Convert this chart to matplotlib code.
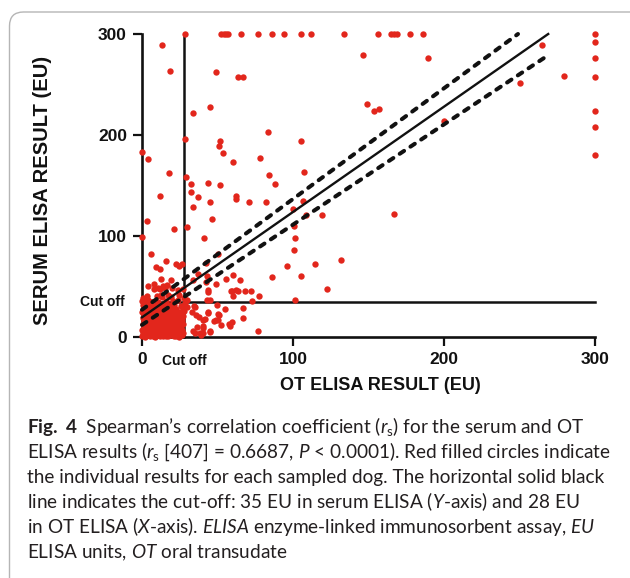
import matplotlib
matplotlib.use("Agg")
import matplotlib.pyplot as plt
from matplotlib.patches import FancyBboxPatch
from matplotlib.transforms import IdentityTransform

# ---------------- data ----------------
# points on the serum = 300 ceiling (OT values)
top_row_ot = [28.7, 52.0, 54.0, 55.9, 57.2, 65.7, 76.9, 85.9, 93.9, 105.3, 111.7,
              134.0, 156.4, 165.0, 166.8, 168.6, 177.7, 186.4, 300.0]
# points on the OT = 300 ceiling (serum values)
right_col_serum = [291.7, 276.6, 257.0, 223.8, 207.6, 180.5]

# scattered individual dogs (OT EU, serum EU)
scatter_pts = [
    (13.0, 288.8), (18.4, 263.7), (48.9, 262.7), (63.8, 257.0), (67.0, 257.0), (146.3, 278.9),
    (189.4, 275.9), (264.6, 289.4), (250.5, 251.5), (279.3, 258.7), (148.9, 231.0), (153.7, 223.8),
    (157.2, 225.7), (200.3, 213.5), (34.0, 222.0), (45.0, 227.4), (28.7, 195.7), (51.6, 194.0),
    (51.0, 189.4), (53.7, 182.5), (60.4, 173.6), (83.2, 202.6), (105.6, 193.7), (77.9, 177.2),
    (107.4, 163.4), (0.3, 183.2), (4.0, 175.9), (18.1, 162.4), (29.0, 158.7), (32.2, 151.5),
    (43.4, 152.8), (51.9, 150.5), (83.8, 160.0), (88.3, 151.8), (32.2, 143.2), (37.2, 138.6),
    (62.0, 139.3), (62.0, 137.0), (70.7, 133.3), (45.0, 134.0), (34.0, 128.4), (82.4, 133.3),
    (11.7, 139.3), (106.9, 134.7), (100.0, 126.7), (108.8, 120.8), (119.4, 120.8), (166.8, 121.8),
    (46.3, 116.5), (3.5, 115.2), (29.8, 108.9), (21.5, 107.3), (0.0, 98.7), (41.0, 98.0),
    (100.5, 109.6), (101.0, 97.7), (100.5, 86.5), (6.1, 81.8), (50.3, 82.2), (131.6, 76.2),
    (114.4, 72.6), (96.3, 70.0), (42.3, 73.3), (15.7, 74.9), (22.3, 72.3), (24.2, 70.0),
    (26.3, 72.3), (9.3, 69.0), (12.2, 67.7), (105.6, 60.0), (85.9, 59.0), (60.1, 61.0),
    (65.2, 56.8), (55.3, 57.4), (48.9, 52.5), (43.1, 60.4), (42.3, 54.5), (122.6, 47.9),
    (58.8, 45.9), (62.5, 46.5), (68.1, 45.9), (72.3, 45.2), (60.1, 41.0), (77.4, 40.3),
    (72.9, 36.0), (101.6, 36.6), (43.6, 46.5), (43.6, 44.2), (43.1, 36.6), (3.7, 50.2),
    (8.2, 47.2), (11.7, 47.9), (15.2, 48.8), (18.9, 56.1), (12.8, 57.4), (37.0, 62.4),
    (33.8, 56.8), (30.0, 36.3), (34.3, 31.0), (49.7, 32.0), (55.0, 28.0), (67.0, 29.0),
    (33.2, 24.4), (43.6, 24.4), (50.0, 22.4), (41.8, 17.8), (48.9, 17.2), (57.7, 13.2),
    (59.3, 14.9), (67.0, 18.8), (52.4, 12.2), (76.9, 6.3), (33.8, 6.3), (38.6, 4.0),
    (45.2, 6.3), (40.7, 10.6), (35.9, 22.0), (45.0, 37.0), (35.1, 30.0), (37.7, 20.1),
    (40.6, 16.8), (43.5, 23.5), (51.0, 21.8), (50.1, 16.8), (58.3, 10.9), (47.9, 16.2),
    (40.6, 9.2), (40.6, 3.7), (39.1, 2.0), (45.0, 5.3), (35.1, 3.7), (36.2, 10.0),
    (63.4, 46.0), (59.4, 46.0), (8.2, 52.5), (10.8, 48.8), (14.1, 50.8), (16.8, 51.8),
    (19.7, 48.2), (9.7, 40.6), (13.2, 39.3), (17.0, 41.6), (19.2, 39.9), (24.0, 46.5),
    (27.0, 47.2), (24.7, 41.6), (28.5, 33.4), (29.6, 30.0), (27.4, 28.4),
]

# dense cluster of low results (OT EU, serum EU)
cluster_pts = [
    (0.3, 1.0), (1.8, 0.4), (3.6, 1.5), (5.2, 0.7), (7.0, 1.2), (8.9, 0.3), (10.4, 1.8), (12.1, 0.9),
    (14.0, 0.5), (15.8, 1.4), (17.5, 0.8), (19.3, 1.9), (21.0, 0.6), (22.8, 1.1), (24.6, 0.4), (26.4, 1.6),
    (0.8, 4.2), (2.5, 3.6), (4.4, 4.9), (6.1, 3.8), (7.8, 4.5), (9.6, 3.3), (11.3, 4.7), (13.2, 4.0),
    (14.9, 3.5), (16.6, 5.0), (18.4, 3.9), (20.1, 4.4), (21.9, 3.2), (23.7, 4.8), (25.5, 3.7), (27.3, 4.1),
    (0.2, 7.4), (1.9, 6.8), (3.7, 7.9), (5.5, 6.5), (7.3, 7.6), (9.0, 7.0), (10.8, 8.1), (12.6, 6.6),
    (14.3, 7.5), (16.1, 6.9), (17.9, 8.0), (19.6, 7.2), (21.4, 6.4), (23.2, 7.7), (25.0, 6.7), (26.8, 7.3),
    (1.1, 10.3), (2.9, 9.6), (4.6, 10.8), (6.4, 9.9), (8.2, 10.5), (10.0, 9.4), (11.7, 11.0), (13.5, 10.1),
    (15.3, 9.7), (17.0, 10.9), (18.8, 9.8), (20.6, 10.6), (22.3, 9.5), (24.1, 10.4), (26.0, 11.2),
    (0.4, 13.1), (2.2, 12.6), (4.0, 13.8), (5.8, 12.9), (7.6, 13.5), (9.3, 12.4), (11.1, 14.0), (12.9, 13.2),
    (14.7, 12.7), (16.4, 13.9), (18.2, 12.8), (20.0, 13.6), (21.7, 12.5), (23.5, 13.4), (25.3, 14.1), (27.1, 12.9),
    (1.3, 16.2), (3.1, 15.6), (4.9, 16.8), (6.7, 15.9), (8.5, 16.5), (10.2, 15.4), (12.0, 17.0), (13.8, 16.1),
    (15.6, 15.7), (17.3, 16.9), (19.1, 15.8), (20.9, 16.6), (22.6, 15.5), (24.4, 16.4), (26.6, 17.2),
    (0.6, 19.3), (2.4, 18.7), (4.2, 19.9), (6.0, 18.9), (7.8, 19.6), (9.6, 18.5), (11.4, 20.1), (13.1, 19.2),
    (14.9, 18.8), (16.7, 20.0), (18.5, 19.0), (20.2, 19.7), (22.0, 18.6), (24.8, 19.5), (27.2, 20.3),
    (1.5, 22.4), (3.3, 21.7), (5.1, 22.9), (6.9, 21.9), (8.7, 22.6), (10.5, 21.5), (12.2, 23.1), (14.0, 22.2),
    (15.8, 21.8), (17.6, 23.0), (19.4, 22.1), (21.5, 22.8), (23.9, 21.6), (26.3, 23.4),
    (0.3, 25.2), (2.6, 24.6), (4.4, 25.9), (6.2, 24.9), (8.0, 25.6), (9.8, 24.4), (11.6, 26.1), (13.4, 25.3),
    (15.2, 24.8), (17.0, 26.0), (18.9, 25.1), (21.0, 25.7), (24.5, 24.7), (27.6, 26.2),
    (1.0, 28.3), (3.8, 27.6), (5.7, 28.9), (7.5, 27.9), (9.3, 28.6), (11.2, 27.5), (13.1, 29.1), (15.0, 28.2),
    (17.2, 27.8), (19.8, 28.7), (22.4, 27.4), (26.9, 28.8),
    (0.5, 31.4), (2.3, 30.6), (5.0, 31.9), (8.4, 30.8), (11.9, 31.6), (14.6, 30.5), (18.1, 32.0), (21.3, 31.2),
    (25.7, 30.9), (0.2, 35.8), (1.7, 34.6), (4.1, 36.2), (6.8, 35.1), (10.3, 34.3), (16.2, 36.0), (20.5, 35.4),
    (23.8, 36.8), (0.4, 38.9), (3.0, 40.2), (12.5, 41.1), (27.9, 38.7), (0.9, 35.6), (3.1, 35.0), (6.0, 35.0),
]

# regression line and 95% confidence band (end points)
fit_x, fit_y = [0, 269], [19.5, 300]
upper_x, upper_y = [0, 249], [27, 300]
lower_x, lower_y = [0, 268], [12, 278]

cutoff_serum = 35
cutoff_ot = 28
ticks = [0, 100, 200, 300]

caption_lines = [
    r"$\mathbf{Fig.\ 4}$  Spearman’s correlation coefficient ($r_{\mathrm{s}}$) for the serum and OT",
    r"ELISA results ($r_{\mathrm{s}}$ [407] = 0.6687, $P$ < 0.0001). Red filled circles indicate",
    r"the individual results for each sampled dog. The horizontal solid black",
    r"line indicates the cut-off: 35 EU in serum ELISA ($Y$-axis) and 28 EU",
    r"in OT ELISA ($X$-axis). $ELISA$ enzyme-linked immunosorbent assay, $EU$",
    r"ELISA units, $OT$ oral transudate",
]

# ---------------- figure ----------------
W, H = 630, 578
RED = "#e2261c"
plt.rcParams["mathtext.fontset"] = "custom"
plt.rcParams["mathtext.rm"] = "Lato"
plt.rcParams["mathtext.it"] = "Lato:italic"
plt.rcParams["mathtext.bf"] = "Lato:bold"

fig = plt.figure(figsize=(W / 100, H / 100), dpi=100)
fig.patch.set_facecolor("white")

# rounded frame
frame = FancyBboxPatch((9.5, -20), 640, 578 - 12 + 20, boxstyle="round,pad=0,rounding_size=14",
                       transform=IdentityTransform(), fill=False, edgecolor="#b5b5b5", lw=1.0)
fig.patches.append(frame)

L, R, T, B = 142, 595, 34, 337
ax = fig.add_axes([L / W, 1 - B / H, (R - L) / W, (B - T) / H])
ax.set_xlim(0, 300)
ax.set_ylim(0, 300)
for s in ["top", "right"]:
    ax.spines[s].set_visible(False)
for s in ["left", "bottom"]:
    ax.spines[s].set_linewidth(1.9)
    ax.spines[s].set_color("#111111")
ax.set_xticks(ticks)
ax.set_yticks(ticks)
ax.tick_params(length=6.5, width=1.6, color="#111111", pad=4.3)
for lab in ax.get_xticklabels() + ax.get_yticklabels():
    lab.set_fontfamily("Liberation Sans")
    lab.set_fontweight("bold")
    lab.set_fontsize(12.5)
    lab.set_color("#111111")

# cut-off lines
ax.plot([cutoff_ot, cutoff_ot], [0, 300], color="#111111", lw=1.8, zorder=2, clip_on=False)
ax.plot([0, 300], [cutoff_serum, cutoff_serum], color="#111111", lw=1.8, zorder=2, clip_on=False)

# points
xs = [p[0] for p in cluster_pts + scatter_pts] + top_row_ot + [300.0] * len(right_col_serum)
ys = [p[1] for p in cluster_pts + scatter_pts] + [300.0] * len(top_row_ot) + right_col_serum
ax.scatter(xs, ys, s=21, color=RED, linewidths=0, zorder=3, clip_on=False)

# regression + confidence band
ax.plot(fit_x, fit_y, color="#111111", lw=1.7, zorder=4, clip_on=False)
for bx, by in [(upper_x, upper_y), (lower_x, lower_y)]:
    ln, = ax.plot(bx, by, color="#111111", lw=2.9, zorder=4, clip_on=False,
                  solid_capstyle="round", dash_capstyle="round")
    ln.set_dashes([1.3, 1.9])

# cut-off labels
ax.annotate("Cut off", xy=(0, cutoff_serum), xytext=(-12.2, 0), textcoords="offset points",
            ha="right", va="center", fontsize=10, fontweight="bold", family="Liberation Sans",
            color="#111111")
ax.annotate("Cut off", xy=(cutoff_ot, 0), xytext=(0, -17.5), textcoords="offset points",
            ha="center", va="center", fontsize=10, fontweight="bold", family="Liberation Sans",
            color="#111111")

# axis titles
fig.text(43 / W, 1 - 190 / H, "SERUM ELISA RESULT (EU)", rotation=90, ha="center", va="center",
         fontsize=14.5, fontweight="bold", family="Liberation Sans", color="#111111")
fig.text(380 / W, 1 - 386 / H, "OT ELISA RESULT (EU)", ha="center", va="center",
         fontsize=13, fontweight="bold", family="Liberation Sans", color="#111111")

# caption, font size fitted to the reference line width
cap_kw = dict(family="Lato", color="#231f20", ha="left", va="baseline")
probe = fig.text(27 / W, 0.1, caption_lines[2], fontsize=12, **cap_kw)
fig.canvas.draw()
w = probe.get_window_extent(renderer=fig.canvas.get_renderer()).width
probe.remove()
cap_size = 12 * 577 / w
baselines = [433, 458, 483, 508, 533, 558]
for txt, yb in zip(caption_lines, baselines):
    fig.text(27 / W, 1 - yb / H, txt, fontsize=cap_size, **cap_kw)

fig.savefig("out.png", dpi=100, facecolor="white")
